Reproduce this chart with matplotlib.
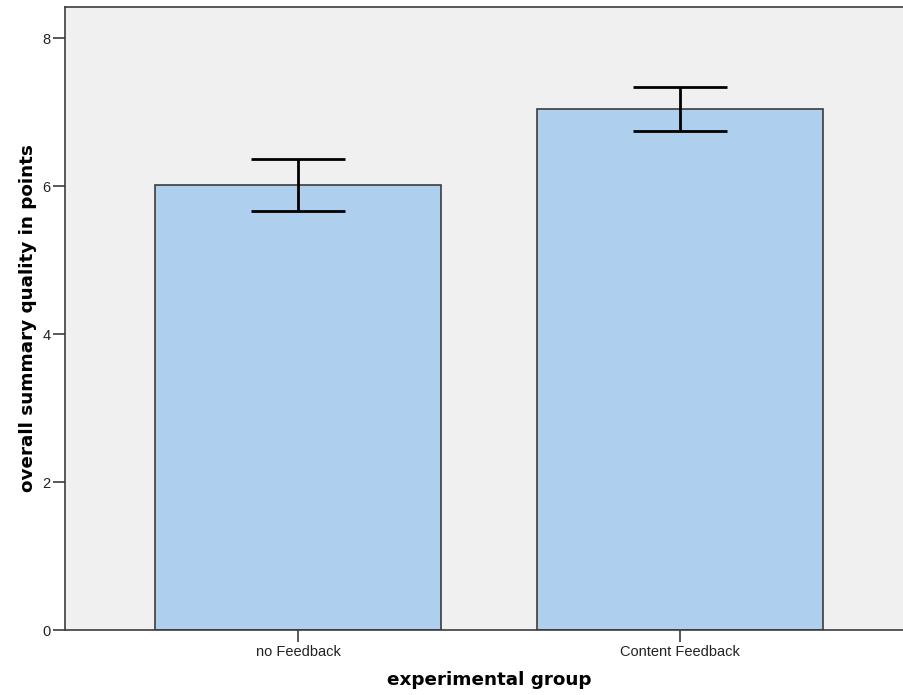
import numpy as np
import matplotlib.pyplot as plt

groups = ['no Feedback', 'Content Feedback']
means = [6.01, 7.04]
upper = [6.36, 7.34]
lower = [5.66, 6.74]

fig = plt.figure(figsize=(9.04, 6.95), dpi=100)
# axes runs slightly past the right edge of the figure, as in the reference
ax = fig.add_axes([65 / 904, 65 / 695, 848 / 904, 623 / 695])
ax.set_facecolor('#f0f0f0')

x = np.arange(len(groups))
ax.bar(x, means, width=0.75, color='#aecfee', edgecolor='#3c3c3c', linewidth=1.2, zorder=2)
err = [np.array(means) - np.array(lower), np.array(upper) - np.array(means)]
ax.errorbar(x, means, yerr=err, fmt='none', ecolor='black', elinewidth=2,
            capsize=34, capthick=2, zorder=3)

ax.set_xlim(-0.61, 1.61)
ax.set_ylim(0, 8.42)
ax.set_yticks([0, 2, 4, 6, 8])
ax.set_xticks(x)
ax.set_xticklabels(groups)

for s in ['left', 'bottom', 'top', 'right']:
    ax.spines[s].set_color('#3c3c3c')
    ax.spines[s].set_linewidth(1.2)
ax.tick_params(axis='both', direction='out', length=8.5, width=1.2, color='#3c3c3c',
               labelsize=10.5, labelcolor='#222222', pad=2)
for lab in ax.get_xticklabels() + ax.get_yticklabels():
    lab.set_family('Liberation Sans')

ax.set_xlabel('experimental group', fontsize=13.2, fontweight='bold', labelpad=9)
ax.set_ylabel('overall summary quality in points', fontsize=13.2, fontweight='bold', labelpad=4)

fig.savefig('out.png', dpi=100)
